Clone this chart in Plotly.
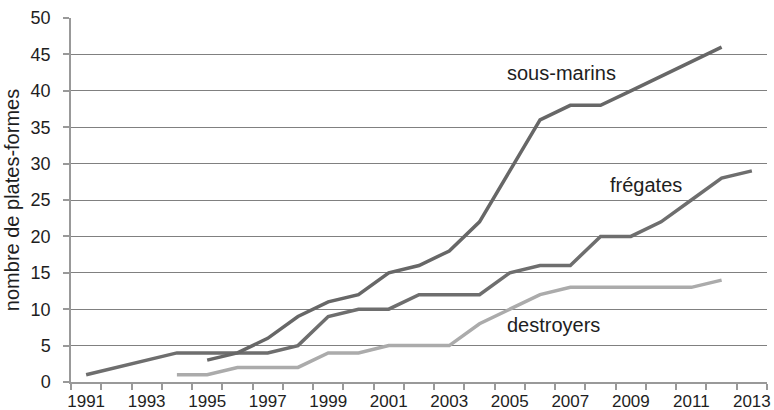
import plotly.graph_objects as go

sous_marins_years = list(range(1995, 2013))
sous_marins = [3, 4, 6, 9, 11, 12, 15, 16, 18, 22, 29, 36, 38, 38, 40, 42, 44, 46]

fregates_years = list(range(1991, 2014))
fregates = [1, 2, 3, 4, 4, 4, 4, 5, 9, 10, 10, 12, 12, 12, 15, 16, 16, 20, 20, 22, 25, 28, 29]

destroyers_years = list(range(1994, 2013))
destroyers = [1, 1, 2, 2, 2, 4, 4, 5, 5, 5, 8, 10, 12, 13, 13, 13, 13, 13, 14]

tick_years = list(range(1991, 2014, 2))
tick_labels = [str(y) for y in tick_years]
y_ticks = list(range(0, 51, 5))

FONT = "Liberation Sans"
TXT = "#1e1e1e"

fig = go.Figure()
fig.add_trace(go.Scatter(x=destroyers_years, y=destroyers, mode="lines",
                         line=dict(color="#ababab", width=3.5), name="destroyers"))
fig.add_trace(go.Scatter(x=fregates_years, y=fregates, mode="lines",
                         line=dict(color="#6e6e6e", width=3.5), name="frégates"))
fig.add_trace(go.Scatter(x=sous_marins_years, y=sous_marins, mode="lines",
                         line=dict(color="#676767", width=3.5), name="sous-marins"))

annots = [("sous-marins", 2006.7, 42.5), ("frégates", 2009.5, 27.1), ("destroyers", 2006.45, 7.8)]
for txt, ax, ay in annots:
    fig.add_annotation(x=ax, y=ay, text=txt, showarrow=False,
                       font=dict(family=FONT, size=20, color=TXT))

fig.update_layout(
    width=774, height=410,
    margin=dict(l=71, r=7, t=18, b=28),
    paper_bgcolor="white", plot_bgcolor="white",
    showlegend=False,
    font=dict(family=FONT, color=TXT),
    xaxis=dict(
        range=[1990.5, 2013.5], automargin=False,
        tickvals=tick_years, ticktext=tick_labels,
        ticks="", showgrid=False, zeroline=False,
        showline=True, linecolor="#999999", linewidth=1.5,
        tickfont=dict(family=FONT, size=17, color=TXT),
        ticklabelstandoff=3,
        minor=dict(tick0=1990.5, dtick=1, ticks="outside", ticklen=6,
                   tickcolor="#999999", tickwidth=1.5, showgrid=False),
    ),
    yaxis=dict(
        range=[0, 50], tickvals=y_ticks, automargin=False,
        ticks="outside", ticklen=6, tickcolor="#999999", tickwidth=1.5,
        showgrid=True, gridcolor="#808080", gridwidth=1.2,
        zeroline=False,
        showline=True, linecolor="#999999", linewidth=1.5,
        tickfont=dict(family=FONT, size=18, color=TXT),
        ticklabelstandoff=9,
        title=dict(text="nombre de plates-formes", font=dict(family=FONT, size=20, color=TXT),
                   standoff=6),
    ),
)

fig.write_html("out.html", config={"displayModeBar": False},
               post_script="document.body.style.margin='0';document.body.style.padding='0';")
